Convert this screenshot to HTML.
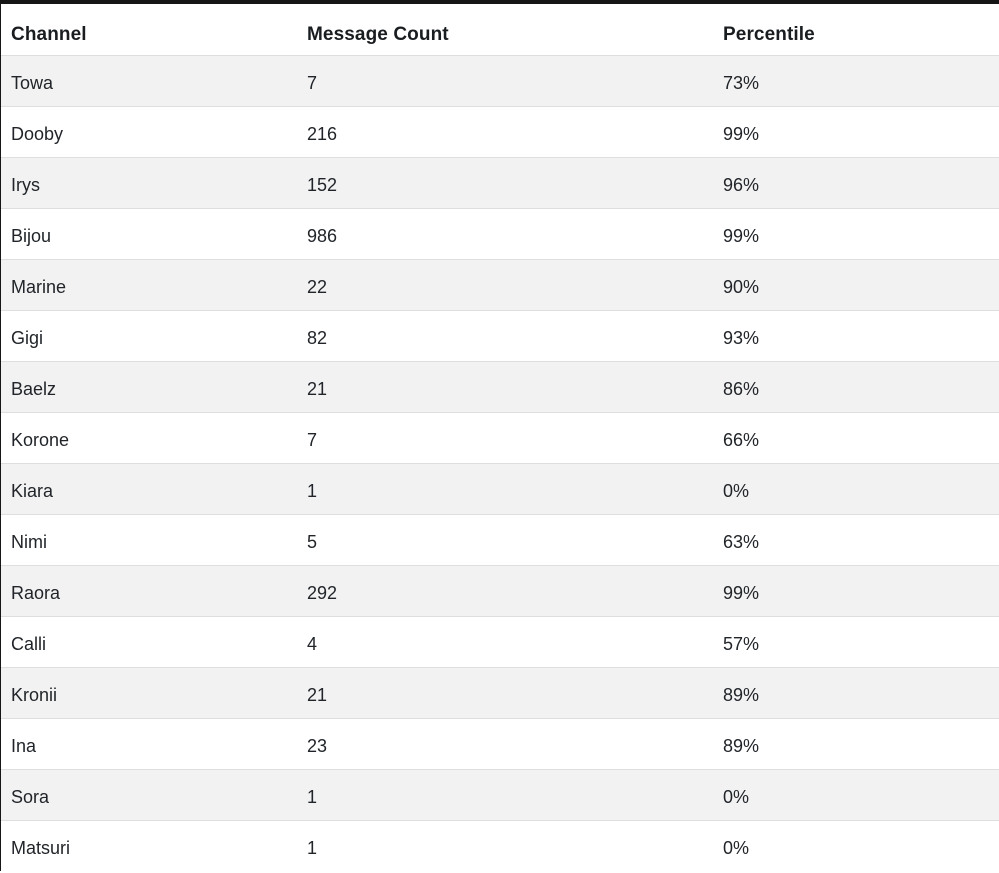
<!DOCTYPE html>
<html>
<head>
<meta charset="utf-8">
<style>
  html, body { margin:0; padding:0; }
  body { width:999px; height:871px; overflow:hidden; background:#fff; position:relative;
         font-family:"Liberation Sans", "DejaVu Sans", sans-serif; color:#212529; }
  .topbar { position:absolute; left:0; top:0; width:999px; height:4px; background:#161616; }
  .leftbar { position:absolute; left:0; top:0; width:1px; height:871px; background:#161616; z-index:2; }
  .row { position:absolute; left:0; width:999px; height:50px; border-bottom:1px solid #dedede; box-sizing:content-box; }
  .row.alt { background:#f2f2f2; }
  .cell { position:absolute; top:0; height:50px; line-height:50px; font-size:18px; white-space:nowrap; padding-top:2px; box-sizing:border-box; }
  .c1 { left:11px; }
  .c2 { left:307px; }
  .c3 { left:723px; }
  .hdr .cell { font-weight:bold; font-size:19px; letter-spacing:0.1px; padding-top:6px; color:#1a1d20; }
</style>
</head>
<body>
<div class="topbar"></div>
<div class="leftbar"></div>

<div class="row hdr" style="top:4px;height:51px;"><div class="cell c1">Channel</div><div class="cell c2">Message Count</div><div class="cell c3">Percentile</div></div>

<div class="row alt" style="top:56px;"><div class="cell c1">Towa</div><div class="cell c2">7</div><div class="cell c3">73%</div></div>
<div class="row" style="top:107px;"><div class="cell c1">Dooby</div><div class="cell c2">216</div><div class="cell c3">99%</div></div>
<div class="row alt" style="top:158px;"><div class="cell c1">Irys</div><div class="cell c2">152</div><div class="cell c3">96%</div></div>
<div class="row" style="top:209px;"><div class="cell c1">Bijou</div><div class="cell c2">986</div><div class="cell c3">99%</div></div>
<div class="row alt" style="top:260px;"><div class="cell c1">Marine</div><div class="cell c2">22</div><div class="cell c3">90%</div></div>
<div class="row" style="top:311px;"><div class="cell c1">Gigi</div><div class="cell c2">82</div><div class="cell c3">93%</div></div>
<div class="row alt" style="top:362px;"><div class="cell c1">Baelz</div><div class="cell c2">21</div><div class="cell c3">86%</div></div>
<div class="row" style="top:413px;"><div class="cell c1">Korone</div><div class="cell c2">7</div><div class="cell c3">66%</div></div>
<div class="row alt" style="top:464px;"><div class="cell c1">Kiara</div><div class="cell c2">1</div><div class="cell c3">0%</div></div>
<div class="row" style="top:515px;"><div class="cell c1">Nimi</div><div class="cell c2">5</div><div class="cell c3">63%</div></div>
<div class="row alt" style="top:566px;"><div class="cell c1">Raora</div><div class="cell c2">292</div><div class="cell c3">99%</div></div>
<div class="row" style="top:617px;"><div class="cell c1">Calli</div><div class="cell c2">4</div><div class="cell c3">57%</div></div>
<div class="row alt" style="top:668px;"><div class="cell c1">Kronii</div><div class="cell c2">21</div><div class="cell c3">89%</div></div>
<div class="row" style="top:719px;"><div class="cell c1">Ina</div><div class="cell c2">23</div><div class="cell c3">89%</div></div>
<div class="row alt" style="top:770px;"><div class="cell c1">Sora</div><div class="cell c2">1</div><div class="cell c3">0%</div></div>
<div class="row" style="top:821px;border-bottom:none;"><div class="cell c1">Matsuri</div><div class="cell c2">1</div><div class="cell c3">0%</div></div>
</body>
</html>
